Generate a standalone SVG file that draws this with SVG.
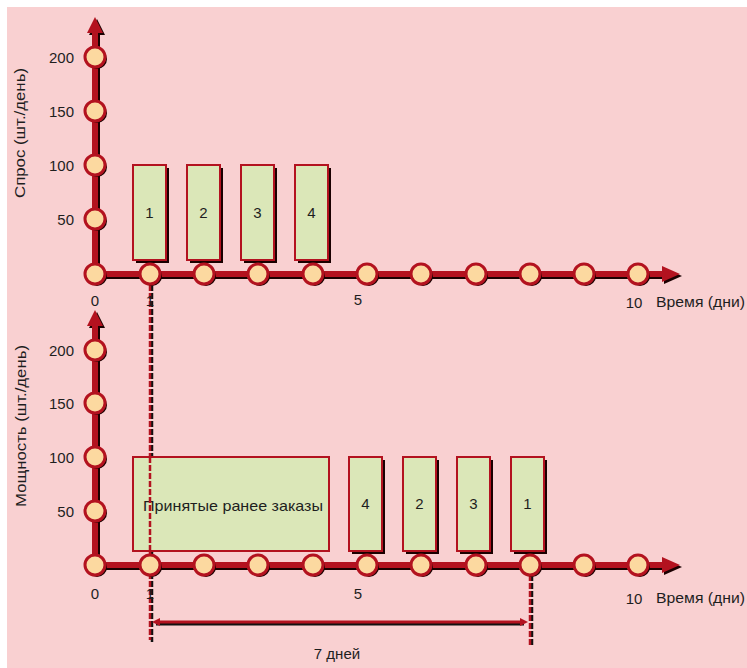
<svg xmlns="http://www.w3.org/2000/svg" width="747" height="668" viewBox="0 0 747 668">
<style>
.ax{stroke:#b3121f;stroke-width:6;fill:none}
.axs{stroke:#1a0000;stroke-width:6;fill:none}
.dot{fill:#fcd9a0;stroke:#b3121f;stroke-width:3}
.dots{fill:#1a0000}
.box{fill:#dbe7b8;stroke:#b3121f;stroke-width:2}
.boxs{fill:#1a0000}
.t{font-family:"Liberation Sans",Arial,sans-serif;font-size:15px;fill:#1e1e1e}
.c{text-anchor:middle}
.r{text-anchor:end}
</style>
<defs>
<g id="dt"><circle cx="2" cy="2" r="10" class="dots"/><circle r="10" class="dot"/></g>
</defs>
<rect x="0" y="0" width="747" height="668" fill="#ffffff"/>
<rect x="7" y="7" width="740" height="661" fill="#f9d0d1"/>

<g id="connectors">
<line x1="152" y1="285" x2="152" y2="642" stroke="#111" stroke-width="2.5" stroke-dasharray="6,2"/>
<line x1="150" y1="285" x2="150" y2="640" stroke="#b3121f" stroke-width="2.5" stroke-dasharray="6,2"/>
<line x1="532" y1="575" x2="532" y2="647" stroke="#111" stroke-width="2.5" stroke-dasharray="6,2"/>
<line x1="530" y1="575" x2="530" y2="645" stroke="#b3121f" stroke-width="2.5" stroke-dasharray="6,2"/>
<line x1="156" y1="624" x2="524" y2="624" stroke="#111" stroke-width="3"/>
<line x1="156" y1="622" x2="524" y2="622" stroke="#b3121f" stroke-width="3"/>
<polygon points="152,622 160,618 160,626" fill="#b3121f"/>
<polygon points="528,622 520,618 520,626" fill="#b3121f"/>
</g>

<g id="top-axes">
<path d="M97 276 V32 M97 276 H664" class="axs"/>
<polygon points="97,19 105,35 89,35" fill="#1a0000"/>
<polygon points="682,276 664,268 664,284" fill="#1a0000"/>
<path d="M95 274 V30 M95 274 H662" class="ax"/>
<polygon points="95,17 103,33 87,33" fill="#b3121f"/>
<polygon points="680,274 662,266 662,282" fill="#b3121f"/>
</g>
<g id="bottom-axes">
<path d="M97 567 V325 M97 567 H664" class="axs"/>
<polygon points="97,312 105,328 89,328" fill="#1a0000"/>
<polygon points="682,567 664,559 664,575" fill="#1a0000"/>
<path d="M95 565 V323 M95 565 H662" class="ax"/>
<polygon points="95,310 103,326 87,326" fill="#b3121f"/>
<polygon points="680,565 662,557 662,573" fill="#b3121f"/>
</g>

<g id="top-boxes">
<g id="d1"><rect x="136" y="168" width="33" height="95" class="boxs"/><rect x="133" y="165" width="33" height="95" class="box"/><text x="149.5" y="218" class="t c">1</text></g>
<g id="d2"><rect x="190" y="168" width="33" height="95" class="boxs"/><rect x="187" y="165" width="33" height="95" class="box"/><text x="203.5" y="218" class="t c">2</text></g>
<g id="d3"><rect x="244" y="168" width="33" height="95" class="boxs"/><rect x="241" y="165" width="33" height="95" class="box"/><text x="257.5" y="218" class="t c">3</text></g>
<g id="d4"><rect x="298" y="168" width="33" height="95" class="boxs"/><rect x="295" y="165" width="33" height="95" class="box"/><text x="311.5" y="218" class="t c">4</text></g>
</g>

<g id="bottom-boxes">
<g id="prev"><rect x="133" y="457" width="196" height="94" class="box"/><text x="143" y="511" class="t" textLength="180" lengthAdjust="spacingAndGlyphs">Принятые ранее заказы</text></g>
<g id="c4"><rect x="352" y="460" width="33" height="94" class="boxs"/><rect x="349" y="457" width="33" height="94" class="box"/><text x="365.5" y="509" class="t c">4</text></g>
<g id="c2"><rect x="406" y="460" width="33" height="94" class="boxs"/><rect x="403" y="457" width="33" height="94" class="box"/><text x="419.5" y="509" class="t c">2</text></g>
<g id="c3"><rect x="460" y="460" width="33" height="94" class="boxs"/><rect x="457" y="457" width="33" height="94" class="box"/><text x="473.5" y="509" class="t c">3</text></g>
<g id="c1"><rect x="514" y="460" width="33" height="94" class="boxs"/><rect x="511" y="457" width="33" height="94" class="box"/><text x="527.5" y="509" class="t c">1</text></g>
</g>
<line x1="150" y1="457" x2="150" y2="551" stroke="#b3121f" stroke-width="2.5" stroke-dasharray="6,2"/>

<g id="top-dots">
<use href="#dt" x="95" y="57"/><use href="#dt" x="95" y="111"/><use href="#dt" x="95" y="165"/><use href="#dt" x="95" y="219"/>
<use href="#dt" x="95" y="274"/><use href="#dt" x="150" y="274"/><use href="#dt" x="204" y="274"/><use href="#dt" x="258" y="274"/>
<use href="#dt" x="313" y="274"/><use href="#dt" x="367" y="274"/><use href="#dt" x="421" y="274"/><use href="#dt" x="476" y="274"/>
<use href="#dt" x="530" y="274"/><use href="#dt" x="584" y="274"/><use href="#dt" x="638" y="274"/>
</g>
<g id="bottom-dots">
<use href="#dt" x="95" y="350"/><use href="#dt" x="95" y="403"/><use href="#dt" x="95" y="457"/><use href="#dt" x="95" y="511"/>
<use href="#dt" x="95" y="565"/><use href="#dt" x="150" y="565"/><use href="#dt" x="204" y="565"/><use href="#dt" x="258" y="565"/>
<use href="#dt" x="313" y="565"/><use href="#dt" x="367" y="565"/><use href="#dt" x="421" y="565"/><use href="#dt" x="476" y="565"/>
<use href="#dt" x="530" y="565"/><use href="#dt" x="584" y="565"/><use href="#dt" x="638" y="565"/>
</g>

<g id="top-labels">
<text x="74" y="63" class="t r">200</text>
<text x="74" y="117" class="t r">150</text>
<text x="74" y="171" class="t r">100</text>
<text x="74" y="225" class="t r">50</text>
<text x="95" y="306" class="t c">0</text>
<text x="150" y="306" class="t c">1</text>
<text x="358" y="305" class="t c">5</text>
<text x="634" y="308" class="t c">10</text>
<text x="656" y="307" class="t" textLength="89" lengthAdjust="spacingAndGlyphs">Время (дни)</text>
<text transform="translate(25,133) rotate(-90)" class="t c" textLength="130" lengthAdjust="spacingAndGlyphs">Спрос (шт./день)</text>
</g>
<g id="bottom-labels">
<text x="74" y="356" class="t r">200</text>
<text x="74" y="409" class="t r">150</text>
<text x="74" y="463" class="t r">100</text>
<text x="74" y="517" class="t r">50</text>
<text x="95" y="599" class="t c">0</text>
<text x="150" y="599" class="t c">1</text>
<text x="358" y="599" class="t c">5</text>
<text x="634" y="604" class="t c">10</text>
<text x="656" y="603" class="t" textLength="89" lengthAdjust="spacingAndGlyphs">Время (дни)</text>
<text transform="translate(26,426) rotate(-90)" class="t c" textLength="162" lengthAdjust="spacingAndGlyphs">Мощность (шт./день)</text>
<text x="337" y="659" class="t c">7 дней</text>
</g>
</svg>
